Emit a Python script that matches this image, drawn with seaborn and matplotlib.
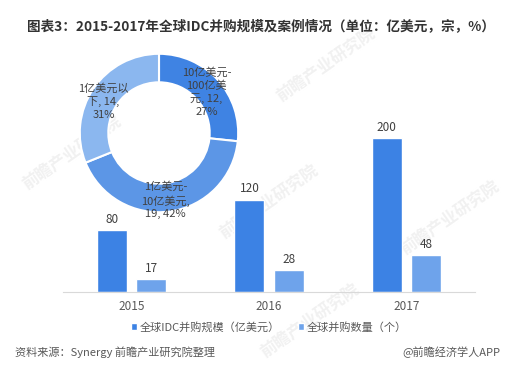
import matplotlib
matplotlib.use("Agg")
import matplotlib.pyplot as plt
import seaborn as sns
import pandas as pd

# ---- data ----
years = ["2015", "2016", "2017"]
scale_values = [80, 120, 200]        # 全球IDC并购规模（亿美元）
count_values = [17, 28, 48]          # 全球并购数量（个）
series_names = ["全球IDC并购规模（亿美元）", "全球并购数量（个）"]

donut_counts = [12, 19, 14]
donut_pcts = [27, 42, 31]
donut_labels = ["10亿美元-\n100亿美\n元, 12,\n27%",
                "1亿美元-\n10亿美元,\n19, 42%",
                "1亿美元以\n下, 14,\n31%"]

title = "图表3：2015-2017年全球IDC并购规模及案例情况（单位：亿美元，宗，%）"
source = "资料来源：Synergy 前瞻产业研究院整理"
credit = "@前瞻经济学人APP"

sns.set_theme(style="white")
plt.rcParams['font.family'] = ['Noto Sans CJK SC', 'DejaVu Sans']

bar_colors = ["#3C82E4", "#6EA3EB"]
donut_colors = ["#3F83E3", "#5C96E6", "#8BB7EF"]

df = pd.DataFrame({
    "year": years * 2,
    "value": scale_values + count_values,
    "series": [series_names[0]] * 3 + [series_names[1]] * 3,
})

fig = plt.figure(figsize=(5.17, 3.82), dpi=100)
fig.patch.set_facecolor("white")

# faint watermarks
wm_color = "#f1f1f1"
for (x, y) in [(0.63, 0.83), (0.52, 0.47), (0.87, 0.43), (0.14, 0.60), (0.60, 0.16)]:
    fig.text(x, y, "前瞻产业研究院", rotation=35, fontsize=12, color=wm_color,
             ha="center", va="center", fontweight="bold", zorder=-5)

ax = fig.add_axes([63/517, 1-292/382, 412/517, 231/382])
ax.set_facecolor("none")
sns.barplot(data=df, x="year", y="value", hue="series", hue_order=series_names,
            palette=bar_colors, width=0.57, gap=0.23, saturation=1, ax=ax,
            legend=True)
ax.set_xlim(-0.5, 2.5)
ax.set_ylim(0, 300)
for c in ax.containers:
    ax.bar_label(c, padding=3, fontsize=8.5, color="#404040")
ax.set_xlabel("")
ax.set_ylabel("")
ax.set_yticks([])
ax.tick_params(axis="x", length=0, labelsize=8.5, labelcolor="#595959", pad=6)
for s in ["top", "right", "left"]:
    ax.spines[s].set_visible(False)
ax.spines["bottom"].set_color("#d9d9d9")
ax.spines["bottom"].set_linewidth(0.8)

leg = ax.legend(loc="upper center", bbox_to_anchor=(0.5, -0.085), ncol=2,
                frameon=False, fontsize=8, handlelength=0.55, handleheight=0.55,
                handletextpad=0.25, columnspacing=1.6)
for t in leg.get_texts():
    t.set_color("#595959")

# donut
dax = fig.add_axes([79/517, 1-213/382, 160/517, 160/382])
dax.pie(donut_counts, colors=donut_colors, startangle=90, counterclock=False,
        radius=1, wedgeprops=dict(width=0.36, edgecolor="white", linewidth=1.5))
dax.set_xlim(-1.01, 1.01)
dax.set_ylim(-1.01, 1.01)
dax.set_aspect("equal")
label_pos = [(0.60, 0.52), (0.08, -0.85), (-0.70, 0.40)]
for (lx, ly), lab in zip(label_pos, donut_labels):
    dax.text(lx, ly, lab, ha="center", va="center", fontsize=8, color="#404040",
             linespacing=1.3)

fig.text(27/517, 1-26/382, title, fontsize=9.8, fontweight="bold",
         color="#333333", ha="left", va="center")
fig.text(15/517, 1-352/382, source, fontsize=8, color="#595959",
         ha="left", va="center", style="italic")
fig.text(500/517, 1-352/382, credit, fontsize=8, color="#595959",
         ha="right", va="center")

fig.savefig("out.png", dpi=100, facecolor="white")
